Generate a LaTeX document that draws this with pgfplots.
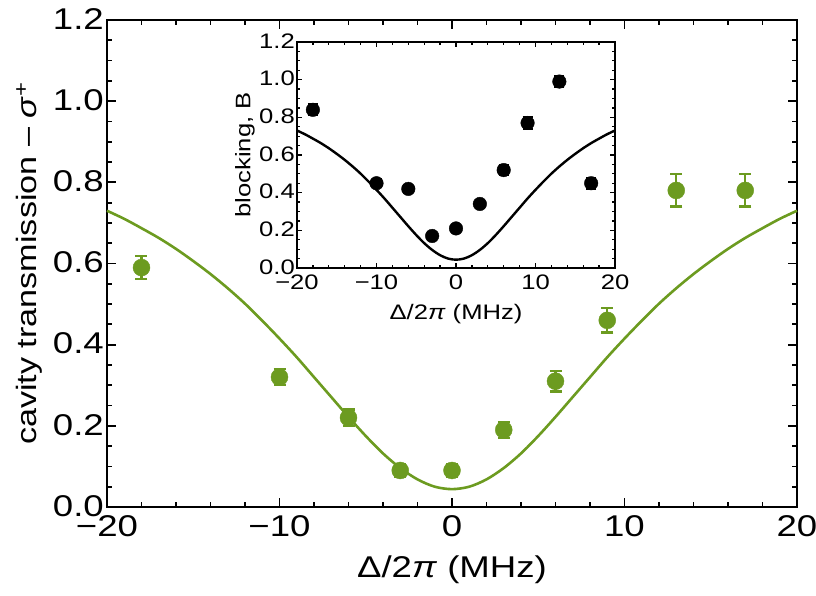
\documentclass[border=0pt]{standalone}
\usepackage{fontspec}
\setmainfont{Liberation Sans}[FakeStretch=1.22]
\usepackage{pgfplots}
\pgfplotsset{compat=1.18}
\definecolor{tgreen}{RGB}{108,155,32}
\pgfplotstableread{
x y
-20 0.730
-19 0.710
-18 0.687
-17 0.663
-16 0.636
-15 0.606
-14 0.574
-13 0.539
-12 0.501
-11 0.459
-10 0.415
-9 0.369
-8 0.320
-7 0.271
-6 0.222
-5 0.175
-4 0.132
-3 0.096
-2 0.068
-1 0.050
0 0.044
1 0.050
2 0.068
3 0.096
4 0.132
5 0.175
6 0.222
7 0.271
8 0.320
9 0.369
10 0.415
11 0.459
12 0.501
13 0.539
14 0.574
15 0.606
16 0.636
17 0.663
18 0.687
19 0.710
20 0.730
}\curve
\pgfplotstableread{
x y e
-18 0.59 0.028
-10 0.32 0.02
-6 0.22 0.02
-3 0.09 0.015
0 0.09 0.015
3 0.19 0.02
6 0.31 0.025
9 0.46 0.03
13 0.78 0.04
17 0.78 0.04
}\main
\pgfplotstableread{
x y e
-18 0.84 0.03
-10 0.45 0.02
-6 0.42 0.02
-3 0.17 0.02
0 0.21 0.02
3 0.34 0.02
6 0.52 0.025
9 0.77 0.03
13 0.99 0.03
17 0.45 0.03
}\inset
\begin{document}
\begin{tikzpicture}[x=1pt,y=1pt]
\path[use as bounding box] (-107,-89) rectangle (709,507);
\begin{axis}[
  at={(0pt,0pt)}, anchor=south west,
  width=690pt, height=487pt, scale only axis,
  xmin=-20, xmax=20, ymin=0, ymax=1.2,
  xtick={-20,-10,0,10,20}, xticklabels={−20,−10,0,10,20},
  ytick={0,0.2,0.4,0.6,0.8,1.0,1.2}, yticklabels={0.0,0.2,0.4,0.6,0.8,1.0,1.2},
  minor x tick num=4, minor y tick num=3,
  tick align=inside,
  major tick length=9pt, minor tick length=5pt,
  every tick/.style={line width=1.8pt, black},
  axis line style={line width=2.6pt},
  ticklabel style={font=\fontsize{30}{34}\selectfont},
  yticklabel style={inner sep=1pt, xshift=-2pt, yshift=1pt},
  xticklabel style={inner sep=1pt, yshift=-7pt},
  xlabel={Δ/2\textit{π} (MHz)},
  ylabel={cavity transmission – \textit{σ}\textsuperscript{+}},
  xlabel style={font=\fontsize{30}{34}\selectfont, yshift=-15pt},
  ylabel style={font=\fontsize{28}{32}\selectfont, yshift=6pt},
  clip=false,
]
\addplot[tgreen, line width=2.6pt, smooth] table[x=x,y=y] {\curve};
\addplot[only marks, mark=*, mark size=8.5pt, tgreen, mark options={fill=tgreen, draw=tgreen},
  error bars/.cd, y dir=both, y explicit,
  error bar style={line width=2.4pt, tgreen},
  error mark options={line width=2.4pt, mark size=6pt, tgreen, rotate=90}]
  table[x=x, y=y, y error=e] {\main};
\end{axis}
\begin{axis}[
  at={(190pt,239pt)}, anchor=south west,
  width=318pt, height=226pt, scale only axis,
  axis background/.style={fill=white},
  xmin=-20, xmax=20, ymin=0, ymax=1.2,
  xtick={-20,-10,0,10,20}, xticklabels={−20,−10,0,10,20},
  ytick={0,0.2,0.4,0.6,0.8,1.0,1.2}, yticklabels={0.0,0.2,0.4,0.6,0.8,1.0,1.2},
  minor x tick num=4, minor y tick num=3,
  tick align=inside,
  major tick length=5pt, minor tick length=3pt,
  every tick/.style={line width=1.3pt, black},
  axis line style={line width=2.2pt},
  ticklabel style={font=\fontsize{21}{25}\selectfont, inner sep=1pt},
  yticklabel style={xshift=-1pt, yshift=1pt},
  xticklabel style={yshift=-6pt},
  xlabel={Δ/2\textit{π} (MHz)},
  ylabel={blocking, B},
  label style={font=\fontsize{21}{25}\selectfont},
  xlabel style={yshift=-10pt},
  ylabel style={yshift=0pt},
]
\addplot[black, line width=2.4pt, smooth] table[x=x,y=y] {\curve};
\addplot[only marks, mark=*, mark size=6.8pt, black,
  error bars/.cd, y dir=both, y explicit,
  error bar style={line width=2pt, black},
  error mark options={line width=2pt, mark size=5pt, black, rotate=90}]
  table[x=x, y=y, y error=e] {\inset};
\end{axis}
\end{tikzpicture}
\end{document}
